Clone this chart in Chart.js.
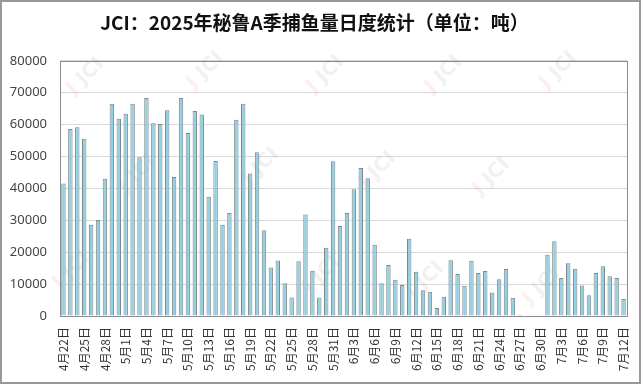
<!DOCTYPE html>
<html>
<head>
<meta charset="utf-8">
<script src="https://cdn.jsdelivr.net/npm/chart.js@4.4.1/dist/chart.umd.min.js"></script>
<style>
    body { margin: 0; background: #fff; }
    #wrap {
        width: 641px; height: 384px; box-sizing: border-box;
        border: 2px solid #9a9a9a; background: #fff;
    }
</style>
</head>
<body>
<div id="wrap"><canvas id="catchChart" width="637" height="380"></canvas></div>
<script>
const chartTitle = 'JCI：2025年秘鲁A季捕鱼量日度统计（单位：吨）';

const dates = [
    '4月22日', '4月23日', '4月24日', '4月25日', '4月26日', '4月27日', '4月28日', '4月29日', '4月30日',
    '5月1日', '5月2日', '5月3日', '5月4日', '5月5日', '5月6日', '5月7日', '5月8日', '5月9日', '5月10日',
    '5月11日', '5月12日', '5月13日', '5月14日', '5月15日', '5月16日', '5月17日', '5月18日', '5月19日', '5月20日',
    '5月21日', '5月22日', '5月23日', '5月24日', '5月25日', '5月26日', '5月27日', '5月28日', '5月29日', '5月30日', '5月31日',
    '6月1日', '6月2日', '6月3日', '6月4日', '6月5日', '6月6日', '6月7日', '6月8日', '6月9日', '6月10日',
    '6月11日', '6月12日', '6月13日', '6月14日', '6月15日', '6月16日', '6月17日', '6月18日', '6月19日', '6月20日',
    '6月21日', '6月22日', '6月23日', '6月24日', '6月25日', '6月26日', '6月27日', '6月28日', '6月29日', '6月30日',
    '7月1日', '7月2日', '7月3日', '7月4日', '7月5日', '7月6日', '7月7日', '7月8日', '7月9日', '7月10日',
    '7月11日', '7月12日'
];

// daily catch, tonnes
const dailyCatch = [
    41500, 58600, 59200, 55600, 28600, 30100, 43000, 66500, 61800,
    63400, 66500, 49800, 68300, 60400, 60200, 64500, 43600, 68300, 57400,
    64300, 63200, 37400, 48600, 28600, 32300, 61500, 66500, 44700, 51300,
    26900, 15200, 17400, 10300, 5800, 17200, 31800, 14200, 5800, 21400, 48500,
    28200, 32300, 39700, 46400, 43200, 22300, 10300, 16000, 11400, 9700,
    24200, 13900, 8100, 7600, 2500, 6000, 17500, 13200, 9500, 17300,
    13500, 14100, 7400, 11500, 14700, 5700, 400, 0, 0, 0,
    19200, 23400, 11900, 16500, 14800, 9600, 6500, 13500, 15600, 12500,
    11900, 5300
];

const yTicks = [0, 10000, 20000, 30000, 40000, 50000, 60000, 70000, 80000];
const labelEvery = 3;

// faint "JCI" marks behind the bars
const watermarkPlugin = {
    id: 'watermark',
    beforeDatasetsDraw(chart) {
        const ctx = chart.ctx;
        const spots = [
            [80, 82], [200, 76], [320, 80], [438, 80], [553, 76],
            [132, 180], [255, 172], [372, 176], [486, 182],
            [66, 276], [316, 280], [420, 286], [536, 292]
        ];
        ctx.save();
        spots.forEach(function (p) {
            ctx.save();
            ctx.translate(p[0] - 2, p[1] - 2);
            ctx.rotate(-Math.PI / 4);
            ctx.font = 'bold 20px "DejaVu Sans"';
            ctx.textAlign = 'left';
            ctx.textBaseline = 'middle';
            ctx.fillStyle = 'rgba(235, 80, 80, 0.09)';
            ctx.fillText('J', -14, 0);
            ctx.fillStyle = 'rgba(120, 120, 120, 0.10)';
            ctx.fillText('JCI', 0, 0);
            ctx.restore();
        });
        ctx.restore();
    }
};

// gray box round the plot area
const framePlugin = {
    id: 'frame',
    afterDatasetsDraw(chart) {
        const a = chart.chartArea;
        const ctx = chart.ctx;
        ctx.save();
        ctx.strokeStyle = '#8c8c8c';
        ctx.lineWidth = 1;
        ctx.strokeRect(Math.round(a.left) + 0.5, Math.round(a.top) + 0.5,
            Math.round(a.right - a.left), Math.round(a.bottom - a.top));
        ctx.restore();
    }
};

const ctx = document.getElementById('catchChart');

new Chart(ctx, {
    type: 'bar',
    data: {
        labels: dates,
        datasets: [{
            data: dailyCatch,
            backgroundColor: '#93d0e2',
            borderColor: '#7e878a',
            borderWidth: 1,
            borderSkipped: 'start',
            barPercentage: 0.64,
            categoryPercentage: 1.0
        }]
    },
    options: {
        responsive: false,
        animation: false,
        layout: { padding: { left: 0, right: 12, top: 0, bottom: 0 } },
        plugins: {
            legend: { display: false },
            tooltip: { enabled: false },
            title: {
                display: true,
                text: chartTitle,
                color: '#111',
                font: { family: '"Noto Sans CJK SC"', size: 19, weight: 'bold' },
                padding: { top: 9, bottom: 27 }
            }
        },
        scales: {
            x: {
                grid: { display: false, drawTicks: false },
                border: { display: false },
                afterFit(scale) {
                    scale.height = 66;
                    // keep the rotated end labels from shrinking the plot
                    scale.paddingLeft = 0;
                    scale.paddingRight = 0;
                },
                ticks: {
                    autoSkip: false,
                    maxRotation: 90,
                    minRotation: 90,
                    padding: 11,
                    color: '#333',
                    font: { family: '"Noto Sans CJK SC"', size: 12 },
                    callback: function (val, i) {
                        return i % labelEvery === 0 ? dates[i] : '';
                    }
                }
            },
            y: {
                min: 0,
                max: 80000,
                afterFit(scale) {
                    scale.width = 58;
                    scale.paddingTop = 0;
                    scale.paddingBottom = 0;
                },
                afterBuildTicks(scale) {
                    scale.ticks = yTicks.map(function (v) { return { value: v }; });
                },
                grid: { color: '#d9d9d9', lineWidth: 1, drawTicks: false },
                border: { display: false },
                ticks: {
                    padding: 13,
                    color: '#444',
                    font: { family: '"Noto Sans"', size: 13 },
                    callback: function (v) { return String(v); }
                }
            }
        }
    },
    plugins: [watermarkPlugin, framePlugin]
});
</script>
</body>
</html>
